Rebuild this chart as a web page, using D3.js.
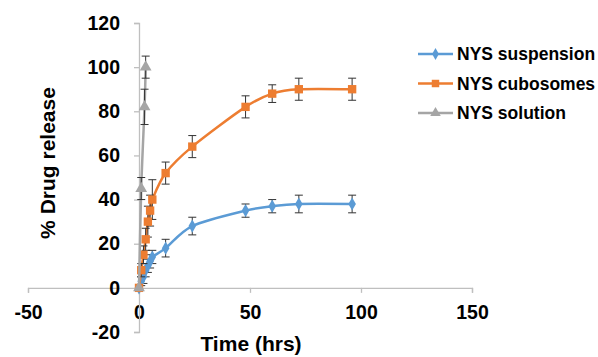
<!DOCTYPE html>
<html>
<head>
<meta charset="utf-8">
<script src="https://cdn.jsdelivr.net/npm/d3@7"></script>
<style>
  body { margin: 0; background: #fff; }
  text { font-family: "Liberation Sans", Arial, sans-serif; font-weight: bold; fill: #000; }
</style>
</head>
<body>
<svg id="chart"></svg>
<script>
// data
var seriesNames = ['NYS suspension', 'NYS cubosomes', 'NYS solution'];
var colors = ['#5B9BD5', '#ED7D31', '#A5A5A5'];

var suspTime = [0, 1, 2, 3, 4, 5, 6, 12, 24, 48, 60, 72, 96];
var suspValue = [0, 3, 5, 8, 10, 12, 14, 18, 28, 35, 37, 38, 38];
var suspErr = [0, 2, 3, 3, 3, 3, 3, 4, 4, 3, 3, 4, 4];

var cuboTime = [0, 1, 2, 3, 4, 5, 6, 12, 24, 48, 60, 72, 96];
var cuboValue = [0, 8, 15, 22, 30, 35, 40, 52, 64, 82, 88, 90, 90];
var cuboErr = [0, 3, 4, 5, 7, 7, 9, 5, 5, 5, 4, 5, 5];

var solTime = [0, 1, 2.5, 3];
var solValue = [0, 45, 82, 100];
var solErr = [0, 5, 8, 5];

var xTicks = [-50, 0, 50, 100, 150];
var yTicks = [-20, 0, 20, 40, 60, 80, 100, 120];

function zip(t, v, e) {
    return t.map(function (d, i) { return { t: d, v: v[i], e: e[i] }; });
}
var series = [
    zip(suspTime, suspValue, suspErr),
    zip(cuboTime, cuboValue, cuboErr),
    zip(solTime, solValue, solErr)
];
var markerTypes = [d3.symbolDiamond, d3.symbolSquare, d3.symbolTriangle];
var markerSizes = [50, 70, 60];

var svgWidth = 598, svgHeight = 357;
var svg = d3.select('#chart')
    .attr('width', svgWidth)
    .attr('height', svgHeight);

var x = d3.scaleLinear().domain([-50, 150]).range([28, 472]);
var y = d3.scaleLinear().domain([-20, 120]).range([332, 23]);

// plain hyphen for negatives, like the source
var fmt = function (d) { return String(d); };

// x axis along y = 0
var xAxis = svg.append('g')
    .attr('transform', 'translate(0,' + y(0) + ')')
    .call(d3.axisBottom(x).tickValues(xTicks).tickFormat(fmt).tickSize(5).tickPadding(12));
xAxis.select('.domain').attr('stroke', '#BFBFBF').attr('stroke-width', 1.3);
xAxis.selectAll('.tick line').attr('stroke', '#BFBFBF').attr('stroke-width', 1.3);
xAxis.selectAll('.tick text')
    .attr('font-size', 19.5).attr('fill', '#000');
xAxis.attr('font-family', null);

// y axis along x = 0
var yAxis = svg.append('g')
    .attr('transform', 'translate(' + x(0) + ',0)')
    .call(d3.axisLeft(y).tickValues(yTicks).tickFormat(fmt).tickSize(5).tickPadding(14));
yAxis.select('.domain').attr('stroke', '#BFBFBF').attr('stroke-width', 1.3);
yAxis.selectAll('.tick line').attr('stroke', '#BFBFBF').attr('stroke-width', 1.3);
yAxis.selectAll('.tick text')
    .attr('font-size', 19.5).attr('fill', '#000');
yAxis.attr('font-family', null);

// axis titles
svg.append('text')
    .attr('x', 251).attr('y', 351)
    .attr('text-anchor', 'middle')
    .attr('font-size', 21)
    .text('Time (hrs)');
svg.append('text')
    .attr('transform', 'translate(55,163) rotate(-90)')
    .attr('text-anchor', 'middle')
    .attr('font-size', 21)
    .text('% Drug release');

var line = d3.line()
    .x(function (d) { return x(d.t); })
    .y(function (d) { return y(d.v); })
    .curve(d3.curveCardinal.tension(0.1));

series.forEach(function (data, k) {
    var g = svg.append('g');
    g.append('path')
        .datum(data)
        .attr('fill', 'none')
        .attr('stroke', colors[k])
        .attr('stroke-width', 2.5)
        .attr('d', line);

    // error bars
    var eb = g.selectAll('.err').data(data.filter(function (d) { return d.e > 0; }))
        .enter().append('g');
    eb.append('line')
        .attr('x1', function (d) { return x(d.t); })
        .attr('x2', function (d) { return x(d.t); })
        .attr('y1', function (d) { return y(d.v - d.e); })
        .attr('y2', function (d) { return y(d.v + d.e); })
        .attr('stroke', '#333').attr('stroke-width', 1);
    [-1, 1].forEach(function (s) {
        eb.append('line')
            .attr('x1', function (d) { return x(d.t) - 4; })
            .attr('x2', function (d) { return x(d.t) + 4; })
            .attr('y1', function (d) { return y(d.v + s * d.e); })
            .attr('y2', function (d) { return y(d.v + s * d.e); })
            .attr('stroke', '#333').attr('stroke-width', 1);
    });

    g.selectAll('.pt').data(data).enter().append('path')
        .attr('d', d3.symbol().type(markerTypes[k]).size(markerSizes[k]))
        .attr('transform', function (d) { return 'translate(' + x(d.t) + ',' + y(d.v) + ')'; })
        .attr('fill', colors[k]);
});

// legend
var legend = svg.append('g');
seriesNames.forEach(function (name, k) {
    var ly = 54 + k * 29.5;
    legend.append('line')
        .attr('x1', 418).attr('x2', 453)
        .attr('y1', ly).attr('y2', ly)
        .attr('stroke', colors[k]).attr('stroke-width', 2.5);
    legend.append('path')
        .attr('d', d3.symbol().type(markerTypes[k]).size(markerSizes[k] * 0.8))
        .attr('transform', 'translate(435.5,' + ly + ')')
        .attr('fill', colors[k]);
    legend.append('text')
        .attr('x', 457).attr('y', ly)
        .attr('dy', '0.35em')
        .attr('font-size', 17.5)
        .text(name);
});
</script>
</body>
</html>
